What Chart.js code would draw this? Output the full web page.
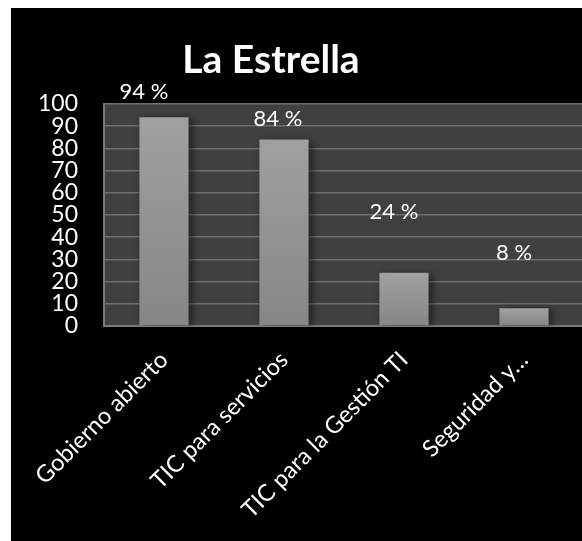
<!DOCTYPE html>
<html>
<head>
  <title>La Estrella</title>
  <script src="https://cdn.jsdelivr.net/npm/chart.js"></script>
  <style>
    body {
        margin: 0;
        background-color: white;
        overflow: hidden;
    }
    #box {
        position: absolute;
        left: 11px;
        top: 8px;
        width: 573px;
        height: 533px;
        background-color: black;
    }
  </style>
</head>
<body>

    <div id="box">
        <canvas id="myChart" width="573" height="533"></canvas>
    </div>

    <script>
        // chart data
        const categories = ['Gobierno abierto', 'TIC para servicios', 'TIC para la Gestión TI', 'Seguridad y…'];
        const values = [94, 84, 24, 8];
        const yTicks = [0, 10, 20, 30, 40, 50, 60, 70, 80, 90, 100];
        const chartTitle = 'La Estrella';

        // where each value label sits relative to its bar top (pixels)
        const labelDx = [-20, -6, -10, -10];
        const labelDy = [-25, -21, -61, -55];

        Chart.defaults.font.family = 'Lato';
        Chart.defaults.color = '#ffffff';

        const excelLook = {
            id: 'excelLook',
            beforeDraw(chart) {
                const {ctx, chartArea} = chart;
                ctx.save();
                ctx.fillStyle = '#404040';
                ctx.fillRect(chartArea.left, chartArea.top, chartArea.right - chartArea.left, chartArea.bottom - chartArea.top);
                ctx.restore();
            },
            beforeDatasetsDraw(chart) {
                const ctx = chart.ctx;
                ctx.save();
                ctx.shadowColor = 'rgba(0,0,0,0.55)';
                ctx.shadowBlur = 8;
                ctx.shadowOffsetX = 3;
                ctx.shadowOffsetY = 1;
            },
            afterDatasetsDraw(chart) {
                const ctx = chart.ctx;
                ctx.restore();
                ctx.save();
                ctx.fillStyle = '#ffffff';
                ctx.font = '22px Lato';
                ctx.textAlign = 'center';
                ctx.textBaseline = 'middle';
                chart.getDatasetMeta(0).data.forEach((bar, i) => {
                    ctx.fillText(values[i] + ' %', bar.x + labelDx[i], bar.y + labelDy[i]);
                });
                // title
                ctx.font = 'bold 39px Lato';
                ctx.fillText(chartTitle, 260, 52);
                ctx.restore();
            }
        };

        const ctx = document.getElementById('myChart').getContext('2d');
        const myChart = new Chart(ctx, {
            type: 'bar',
            data: {
                labels: categories,
                datasets: [{
                    data: values,
                    backgroundColor: function(c) {
                        const chart = c.chart;
                        if (!chart.chartArea) return '#959595';
                        const top = chart.scales.y.getPixelForValue(c.raw);
                        const bottom = chart.scales.y.getPixelForValue(0);
                        const g = chart.ctx.createLinearGradient(0, top, 0, bottom);
                        g.addColorStop(0, '#a0a0a0');
                        g.addColorStop(1, '#868686');
                        return g;
                    },
                    borderWidth: 0,
                    barPercentage: 1,
                    categoryPercentage: 0.41
                }]
            },
            options: {
                responsive: false,
                animation: false,
                layout: {
                    padding: { top: 96, left: 0, right: 0, bottom: 0 }
                },
                plugins: {
                    legend: { display: false },
                    title: { display: false },
                    tooltip: { enabled: false }
                },
                scales: {
                    x: {
                        grid: { display: false },
                        border: { color: '#7a7a7a', width: 2 },
                        ticks: {
                            color: '#ffffff',
                            font: { size: 23.5 },
                            maxRotation: 45,
                            minRotation: 45,
                            autoSkip: false,
                            padding: 12,
                            labelOffset: 0
                        },
                        afterFit(scale) { scale.height = 215; }
                    },
                    y: {
                        min: 0,
                        max: 100,
                        afterBuildTicks(scale) {
                            scale.ticks = yTicks.map(v => ({ value: v }));
                        },
                        grid: {
                            color: '#6e6e6e',
                            lineWidth: 1.5,
                            drawTicks: false
                        },
                        border: { color: '#7a7a7a', width: 2 },
                        ticks: {
                            color: '#ffffff',
                            font: { size: 23 },
                            padding: 26,
                            autoSkip: false
                        },
                        afterFit(scale) { scale.width = 93; }
                    }
                }
            },
            plugins: [excelLook]
        });
    </script>

</body>
</html>
